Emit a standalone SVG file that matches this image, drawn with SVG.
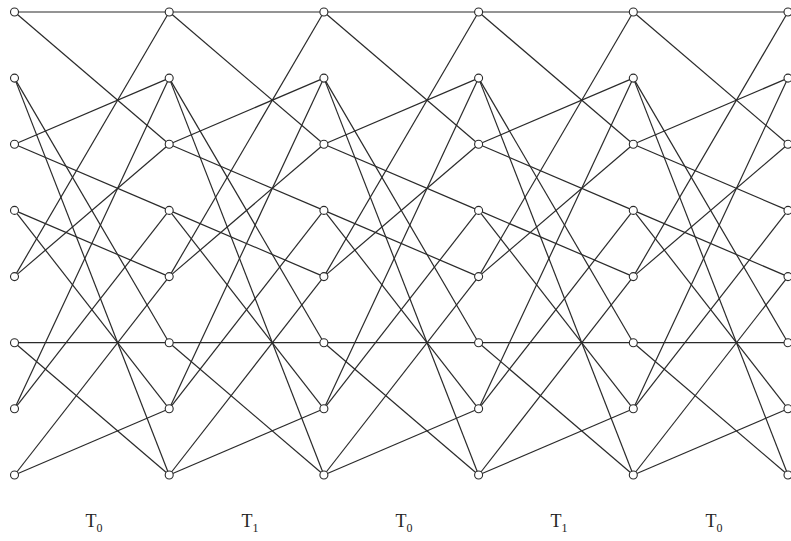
<svg xmlns="http://www.w3.org/2000/svg" width="791" height="541" viewBox="0 0 791 541">
<style>
.e{stroke:#2a2a2a;stroke-width:1.2;fill:none}
.n{fill:#fff;stroke:#2a2a2a;stroke-width:1.1}
.t{font-family:"Liberation Serif","Times New Roman",serif;font-size:18px;fill:#222;text-anchor:middle}
.s{font-size:12px}
</style>
<rect width="791" height="541" fill="#fff"/>
<g id="connectors">
<!-- stage 0 (T0) -->
<line class="e" x1="14.5" y1="12" x2="169.2" y2="12"/>
<line class="e" x1="14.5" y1="12" x2="169.2" y2="144.3"/>
<line class="e" x1="14.5" y1="78.1" x2="169.2" y2="342.7"/>
<line class="e" x1="14.5" y1="78.1" x2="169.2" y2="475"/>
<line class="e" x1="14.5" y1="144.3" x2="169.2" y2="78.1"/>
<line class="e" x1="14.5" y1="144.3" x2="169.2" y2="210.4"/>
<line class="e" x1="14.5" y1="210.4" x2="169.2" y2="276.6"/>
<line class="e" x1="14.5" y1="210.4" x2="169.2" y2="408.8"/>
<line class="e" x1="14.5" y1="276.6" x2="169.2" y2="12"/>
<line class="e" x1="14.5" y1="276.6" x2="169.2" y2="144.3"/>
<line class="e" x1="14.5" y1="342.7" x2="169.2" y2="342.7"/>
<line class="e" x1="14.5" y1="342.7" x2="169.2" y2="475"/>
<line class="e" x1="14.5" y1="408.8" x2="169.2" y2="78.1"/>
<line class="e" x1="14.5" y1="408.8" x2="169.2" y2="210.4"/>
<line class="e" x1="14.5" y1="475" x2="169.2" y2="276.6"/>
<line class="e" x1="14.5" y1="475" x2="169.2" y2="408.8"/>
<!-- stage 1 (T1) -->
<line class="e" x1="169.2" y1="12" x2="323.9" y2="12"/>
<line class="e" x1="169.2" y1="12" x2="323.9" y2="144.3"/>
<line class="e" x1="169.2" y1="78.1" x2="323.9" y2="342.7"/>
<line class="e" x1="169.2" y1="78.1" x2="323.9" y2="475"/>
<line class="e" x1="169.2" y1="144.3" x2="323.9" y2="78.1"/>
<line class="e" x1="169.2" y1="144.3" x2="323.9" y2="210.4"/>
<line class="e" x1="169.2" y1="210.4" x2="323.9" y2="276.6"/>
<line class="e" x1="169.2" y1="210.4" x2="323.9" y2="408.8"/>
<line class="e" x1="169.2" y1="276.6" x2="323.9" y2="12"/>
<line class="e" x1="169.2" y1="276.6" x2="323.9" y2="144.3"/>
<line class="e" x1="169.2" y1="342.7" x2="323.9" y2="342.7"/>
<line class="e" x1="169.2" y1="342.7" x2="323.9" y2="475"/>
<line class="e" x1="169.2" y1="408.8" x2="323.9" y2="78.1"/>
<line class="e" x1="169.2" y1="408.8" x2="323.9" y2="210.4"/>
<line class="e" x1="169.2" y1="475" x2="323.9" y2="276.6"/>
<line class="e" x1="169.2" y1="475" x2="323.9" y2="408.8"/>
<!-- stage 2 (T0) -->
<line class="e" x1="323.9" y1="12" x2="478.6" y2="12"/>
<line class="e" x1="323.9" y1="12" x2="478.6" y2="144.3"/>
<line class="e" x1="323.9" y1="78.1" x2="478.6" y2="342.7"/>
<line class="e" x1="323.9" y1="78.1" x2="478.6" y2="475"/>
<line class="e" x1="323.9" y1="144.3" x2="478.6" y2="78.1"/>
<line class="e" x1="323.9" y1="144.3" x2="478.6" y2="210.4"/>
<line class="e" x1="323.9" y1="210.4" x2="478.6" y2="276.6"/>
<line class="e" x1="323.9" y1="210.4" x2="478.6" y2="408.8"/>
<line class="e" x1="323.9" y1="276.6" x2="478.6" y2="12"/>
<line class="e" x1="323.9" y1="276.6" x2="478.6" y2="144.3"/>
<line class="e" x1="323.9" y1="342.7" x2="478.6" y2="342.7"/>
<line class="e" x1="323.9" y1="342.7" x2="478.6" y2="475"/>
<line class="e" x1="323.9" y1="408.8" x2="478.6" y2="78.1"/>
<line class="e" x1="323.9" y1="408.8" x2="478.6" y2="210.4"/>
<line class="e" x1="323.9" y1="475" x2="478.6" y2="276.6"/>
<line class="e" x1="323.9" y1="475" x2="478.6" y2="408.8"/>
<!-- stage 3 (T1) -->
<line class="e" x1="478.6" y1="12" x2="633.3" y2="12"/>
<line class="e" x1="478.6" y1="12" x2="633.3" y2="144.3"/>
<line class="e" x1="478.6" y1="78.1" x2="633.3" y2="342.7"/>
<line class="e" x1="478.6" y1="78.1" x2="633.3" y2="475"/>
<line class="e" x1="478.6" y1="144.3" x2="633.3" y2="78.1"/>
<line class="e" x1="478.6" y1="144.3" x2="633.3" y2="210.4"/>
<line class="e" x1="478.6" y1="210.4" x2="633.3" y2="276.6"/>
<line class="e" x1="478.6" y1="210.4" x2="633.3" y2="408.8"/>
<line class="e" x1="478.6" y1="276.6" x2="633.3" y2="12"/>
<line class="e" x1="478.6" y1="276.6" x2="633.3" y2="144.3"/>
<line class="e" x1="478.6" y1="342.7" x2="633.3" y2="342.7"/>
<line class="e" x1="478.6" y1="342.7" x2="633.3" y2="475"/>
<line class="e" x1="478.6" y1="408.8" x2="633.3" y2="78.1"/>
<line class="e" x1="478.6" y1="408.8" x2="633.3" y2="210.4"/>
<line class="e" x1="478.6" y1="475" x2="633.3" y2="276.6"/>
<line class="e" x1="478.6" y1="475" x2="633.3" y2="408.8"/>
<!-- stage 4 (T0) -->
<line class="e" x1="633.3" y1="12" x2="788" y2="12"/>
<line class="e" x1="633.3" y1="12" x2="788" y2="144.3"/>
<line class="e" x1="633.3" y1="78.1" x2="788" y2="342.7"/>
<line class="e" x1="633.3" y1="78.1" x2="788" y2="475"/>
<line class="e" x1="633.3" y1="144.3" x2="788" y2="78.1"/>
<line class="e" x1="633.3" y1="144.3" x2="788" y2="210.4"/>
<line class="e" x1="633.3" y1="210.4" x2="788" y2="276.6"/>
<line class="e" x1="633.3" y1="210.4" x2="788" y2="408.8"/>
<line class="e" x1="633.3" y1="276.6" x2="788" y2="12"/>
<line class="e" x1="633.3" y1="276.6" x2="788" y2="144.3"/>
<line class="e" x1="633.3" y1="342.7" x2="788" y2="342.7"/>
<line class="e" x1="633.3" y1="342.7" x2="788" y2="475"/>
<line class="e" x1="633.3" y1="408.8" x2="788" y2="78.1"/>
<line class="e" x1="633.3" y1="408.8" x2="788" y2="210.4"/>
<line class="e" x1="633.3" y1="475" x2="788" y2="276.6"/>
<line class="e" x1="633.3" y1="475" x2="788" y2="408.8"/>
</g>
<g id="nodes">
<g id="n0-0"><circle class="n" cx="14.5" cy="12" r="4"/></g>
<g id="n0-1"><circle class="n" cx="14.5" cy="78.1" r="4"/></g>
<g id="n0-2"><circle class="n" cx="14.5" cy="144.3" r="4"/></g>
<g id="n0-3"><circle class="n" cx="14.5" cy="210.4" r="4"/></g>
<g id="n0-4"><circle class="n" cx="14.5" cy="276.6" r="4"/></g>
<g id="n0-5"><circle class="n" cx="14.5" cy="342.7" r="4"/></g>
<g id="n0-6"><circle class="n" cx="14.5" cy="408.8" r="4"/></g>
<g id="n0-7"><circle class="n" cx="14.5" cy="475" r="4"/></g>
<g id="n1-0"><circle class="n" cx="169.2" cy="12" r="4"/></g>
<g id="n1-1"><circle class="n" cx="169.2" cy="78.1" r="4"/></g>
<g id="n1-2"><circle class="n" cx="169.2" cy="144.3" r="4"/></g>
<g id="n1-3"><circle class="n" cx="169.2" cy="210.4" r="4"/></g>
<g id="n1-4"><circle class="n" cx="169.2" cy="276.6" r="4"/></g>
<g id="n1-5"><circle class="n" cx="169.2" cy="342.7" r="4"/></g>
<g id="n1-6"><circle class="n" cx="169.2" cy="408.8" r="4"/></g>
<g id="n1-7"><circle class="n" cx="169.2" cy="475" r="4"/></g>
<g id="n2-0"><circle class="n" cx="323.9" cy="12" r="4"/></g>
<g id="n2-1"><circle class="n" cx="323.9" cy="78.1" r="4"/></g>
<g id="n2-2"><circle class="n" cx="323.9" cy="144.3" r="4"/></g>
<g id="n2-3"><circle class="n" cx="323.9" cy="210.4" r="4"/></g>
<g id="n2-4"><circle class="n" cx="323.9" cy="276.6" r="4"/></g>
<g id="n2-5"><circle class="n" cx="323.9" cy="342.7" r="4"/></g>
<g id="n2-6"><circle class="n" cx="323.9" cy="408.8" r="4"/></g>
<g id="n2-7"><circle class="n" cx="323.9" cy="475" r="4"/></g>
<g id="n3-0"><circle class="n" cx="478.6" cy="12" r="4"/></g>
<g id="n3-1"><circle class="n" cx="478.6" cy="78.1" r="4"/></g>
<g id="n3-2"><circle class="n" cx="478.6" cy="144.3" r="4"/></g>
<g id="n3-3"><circle class="n" cx="478.6" cy="210.4" r="4"/></g>
<g id="n3-4"><circle class="n" cx="478.6" cy="276.6" r="4"/></g>
<g id="n3-5"><circle class="n" cx="478.6" cy="342.7" r="4"/></g>
<g id="n3-6"><circle class="n" cx="478.6" cy="408.8" r="4"/></g>
<g id="n3-7"><circle class="n" cx="478.6" cy="475" r="4"/></g>
<g id="n4-0"><circle class="n" cx="633.3" cy="12" r="4"/></g>
<g id="n4-1"><circle class="n" cx="633.3" cy="78.1" r="4"/></g>
<g id="n4-2"><circle class="n" cx="633.3" cy="144.3" r="4"/></g>
<g id="n4-3"><circle class="n" cx="633.3" cy="210.4" r="4"/></g>
<g id="n4-4"><circle class="n" cx="633.3" cy="276.6" r="4"/></g>
<g id="n4-5"><circle class="n" cx="633.3" cy="342.7" r="4"/></g>
<g id="n4-6"><circle class="n" cx="633.3" cy="408.8" r="4"/></g>
<g id="n4-7"><circle class="n" cx="633.3" cy="475" r="4"/></g>
<g id="n5-0"><circle class="n" cx="788" cy="12" r="4"/></g>
<g id="n5-1"><circle class="n" cx="788" cy="78.1" r="4"/></g>
<g id="n5-2"><circle class="n" cx="788" cy="144.3" r="4"/></g>
<g id="n5-3"><circle class="n" cx="788" cy="210.4" r="4"/></g>
<g id="n5-4"><circle class="n" cx="788" cy="276.6" r="4"/></g>
<g id="n5-5"><circle class="n" cx="788" cy="342.7" r="4"/></g>
<g id="n5-6"><circle class="n" cx="788" cy="408.8" r="4"/></g>
<g id="n5-7"><circle class="n" cx="788" cy="475" r="4"/></g>
</g>
<g id="labels">
<text class="t" x="94" y="527">T<tspan class="s" dy="5">0</tspan></text>
<text class="t" x="250" y="527">T<tspan class="s" dy="5">1</tspan></text>
<text class="t" x="404" y="527">T<tspan class="s" dy="5">0</tspan></text>
<text class="t" x="559" y="527">T<tspan class="s" dy="5">1</tspan></text>
<text class="t" x="714" y="527">T<tspan class="s" dy="5">0</tspan></text>
</g>
</svg>
